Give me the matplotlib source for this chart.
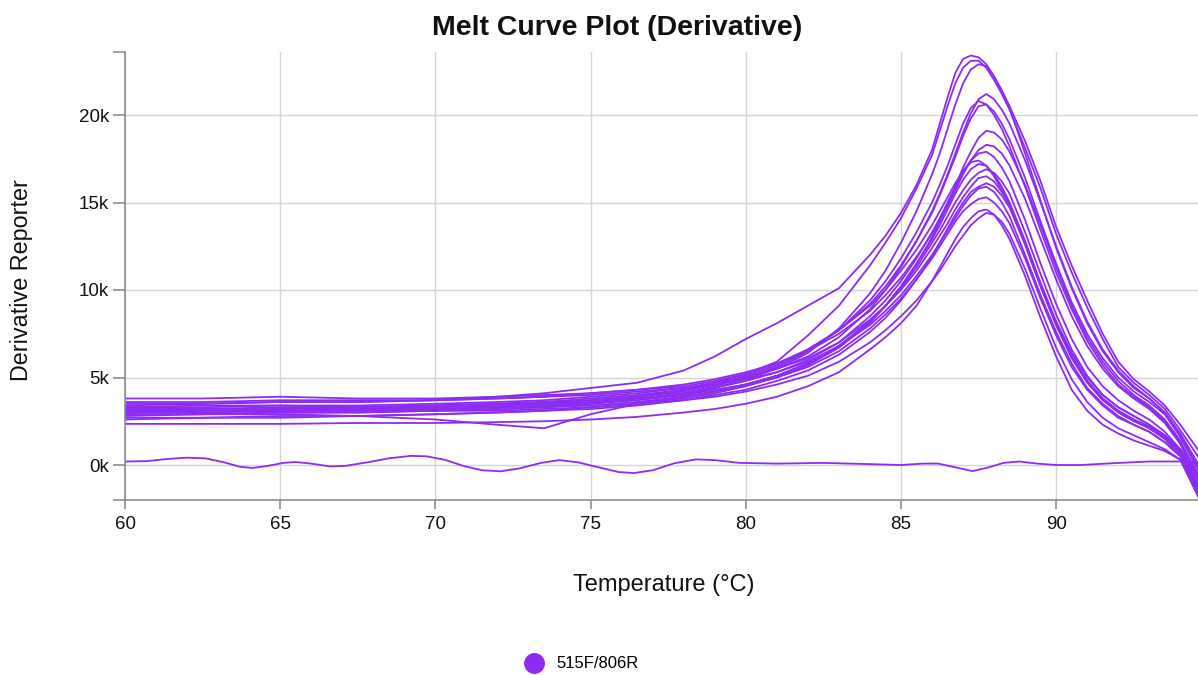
import matplotlib
matplotlib.use('Agg')
import matplotlib.pyplot as plt
from matplotlib.lines import Line2D
from matplotlib.ticker import FuncFormatter

PURPLE = '#8c2bf2'
GRID = '#d4d4d4'
AXIS = '#8e8e8e'

plt.rcParams['font.family'] = ['Liberation Sans', 'DejaVu Sans']

# temperature grid (°C) shared by the sample wells
temps = [60, 62.5, 65, 67.5, 70, 72, 73.5, 75, 76.5, 78, 79, 80, 81, 82, 83,
         84, 84.5, 85, 85.5, 86, 86.25, 86.5, 86.75, 87, 87.25, 87.5, 87.75,
         88, 88.25, 88.5, 89, 89.5, 90, 90.5, 91, 91.5, 92, 92.5, 93, 93.5, 94, 94.6]

# derivative reporter, in thousands
a1 = [3.4, 3.5, 3.6, 3.6, 3.7, 3.9, 4.1, 4.4, 4.7, 5.4, 6.2, 7.2, 8.1, 9.1, 10.1,
      12.0, 13.1, 14.4, 16.0, 18.0, 19.5, 21.0, 22.4, 23.2, 23.4, 23.3, 22.9,
      22.2, 21.4, 20.5, 18.5, 16.2, 13.6, 11.4, 9.4, 7.5, 5.9, 4.9, 4.2, 3.4, 2.3, 0.8]
a2 = [3.0, 3.1, 3.1, 3.2, 3.3, 3.4, 3.5, 3.7, 3.9, 4.3, 4.7, 5.2, 5.9, 7.4, 9.1,
      11.4, 12.7, 14.1, 15.8, 17.7, 19.1, 20.5, 21.8, 22.7, 23.1, 23.1, 22.7,
      22.0, 21.2, 20.3, 18.1, 15.8, 13.2, 11.0, 9.0, 7.2, 5.6, 4.7, 4.0, 3.2, 2.0, 0.4]
a3 = [3.1, 3.0, 3.1, 3.1, 3.2, 3.3, 3.4, 3.5, 3.7, 4.0, 4.4, 4.9, 5.5, 6.4, 7.8,
      9.8, 11.1, 12.7, 14.5, 16.6, 17.8, 19.2, 20.6, 21.8, 22.6, 22.9, 22.8,
      22.2, 21.4, 20.4, 17.8, 15.1, 12.4, 10.1, 8.1, 6.5, 5.3, 4.4, 3.8, 3.0, 1.8, 0.0]
a4 = [3.2, 3.2, 3.3, 3.3, 3.4, 3.5, 3.6, 3.8, 4.0, 4.3, 4.6, 5.0, 5.5, 6.2, 7.3,
      8.9, 10.0, 11.3, 12.8, 14.5, 15.5, 16.6, 17.8, 19.0, 20.1, 20.9, 21.2,
      20.9, 20.3, 19.5, 17.4, 15.0, 12.5, 10.2, 8.2, 6.6, 5.4, 4.5, 3.8, 3.0, 1.7, -0.2]
a5 = [2.9, 2.9, 3.0, 3.0, 3.1, 3.2, 3.3, 3.5, 3.8, 4.1, 4.5, 5.0, 5.6, 6.5, 7.7,
      9.4, 10.5, 11.8, 13.3, 15.0, 16.0, 17.1, 18.3, 19.5, 20.4, 20.8, 20.6,
      20.0, 19.2, 18.2, 15.9, 13.4, 11.0, 8.9, 7.1, 5.7, 4.6, 3.9, 3.3, 2.5, 1.3, -0.6]
a6 = [3.3, 3.3, 3.4, 3.3, 3.4, 3.5, 3.6, 3.7, 3.9, 4.2, 4.6, 5.1, 5.7, 6.6, 7.7,
      9.2, 10.2, 11.4, 12.8, 14.4, 15.4, 16.5, 17.6, 18.8, 19.8, 20.5, 20.6,
      20.2, 19.5, 18.6, 16.4, 13.9, 11.5, 9.3, 7.5, 6.1, 5.0, 4.2, 3.6, 2.9, 1.6, -0.4]
b1 = [2.6, 2.7, 2.7, 2.8, 2.9, 3.0, 3.1, 3.3, 3.5, 3.8, 4.1, 4.5, 5.0, 5.7, 6.7,
      8.1, 9.1, 10.2, 11.5, 13.0, 13.9, 14.9, 15.9, 17.0, 17.9, 18.7, 19.1,
      19.0, 18.6, 17.9, 16.0, 13.7, 11.3, 9.1, 7.3, 5.9, 4.8, 4.0, 3.4, 2.6, 1.4, -0.8]
b2 = [3.5, 3.5, 3.6, 3.6, 3.7, 3.8, 3.9, 4.1, 4.3, 4.6, 4.9, 5.3, 5.8, 6.5, 7.5,
      8.8, 9.7, 10.7, 11.9, 13.2, 14.0, 14.8, 15.7, 16.6, 17.4, 18.0, 18.3,
      18.2, 17.8, 17.1, 15.2, 12.9, 10.6, 8.5, 6.8, 5.5, 4.5, 3.8, 3.2, 2.4, 1.2, -1.0]
b3 = [3.1, 3.1, 3.2, 3.2, 3.2, 3.3, 3.4, 3.6, 3.8, 4.1, 4.4, 4.8, 5.3, 6.0, 7.0,
      8.5, 9.4, 10.5, 11.8, 13.3, 14.1, 15.0, 15.9, 16.8, 17.4, 17.8, 17.9,
      17.6, 17.0, 16.2, 14.0, 11.5, 9.2, 7.2, 5.6, 4.5, 3.7, 3.1, 2.6, 1.9, 0.9, -1.2]
b4 = [3.8, 3.8, 3.9, 3.8, 3.8, 3.9, 4.0, 4.1, 4.3, 4.5, 4.8, 5.2, 5.8, 6.6, 7.7,
      9.1, 10.0, 11.1, 12.3, 13.7, 14.5, 15.3, 16.1, 16.8, 17.3, 17.4, 17.1,
      16.5, 15.7, 14.8, 12.6, 10.2, 8.0, 6.2, 4.8, 3.8, 3.1, 2.6, 2.1, 1.5, 0.6, -1.5]
b5 = [2.8, 2.9, 2.9, 2.8, 2.6, 2.3, 2.1, 2.9, 3.5, 3.9, 4.2, 4.6, 5.1, 5.8, 6.8,
      8.2, 9.1, 10.2, 11.5, 12.9, 13.7, 14.6, 15.5, 16.3, 16.9, 17.2, 17.1,
      16.6, 15.9, 15.0, 12.8, 10.4, 8.2, 6.4, 5.0, 4.0, 3.3, 2.8, 2.3, 1.7, 0.8, -0.9]
b6 = [3.0, 3.0, 3.1, 3.1, 3.1, 3.2, 3.3, 3.4, 3.6, 3.9, 4.2, 4.6, 5.1, 5.8, 6.8,
      8.2, 9.1, 10.1, 11.3, 12.7, 13.4, 14.2, 15.0, 15.7, 16.3, 16.7, 16.9,
      16.7, 16.2, 15.5, 13.3, 10.9, 8.6, 6.6, 5.1, 4.0, 3.3, 2.8, 2.3, 1.7, 0.9, -0.6]
c1 = [3.3, 3.4, 3.4, 3.4, 3.5, 3.6, 3.7, 3.9, 4.1, 4.4, 4.7, 5.0, 5.5, 6.1, 7.0,
      8.3, 9.1, 10.0, 11.1, 12.4, 13.1, 13.8, 14.6, 15.3, 15.9, 16.4, 16.5,
      16.2, 15.6, 14.9, 12.7, 10.3, 8.1, 6.2, 4.8, 3.8, 3.1, 2.6, 2.2, 1.6, 0.7, -1.3]
c2 = [2.7, 2.7, 2.8, 2.8, 2.9, 3.0, 3.1, 3.2, 3.4, 3.7, 4.0, 4.3, 4.8, 5.4, 6.3,
      7.6, 8.4, 9.4, 10.6, 11.9, 12.7, 13.5, 14.3, 15.0, 15.6, 15.9, 16.1,
      15.9, 15.4, 14.7, 12.6, 10.2, 8.0, 6.1, 4.7, 3.7, 3.0, 2.5, 2.1, 1.5, 0.6, -1.4]
c3 = [3.6, 3.6, 3.7, 3.7, 3.7, 3.8, 3.9, 4.0, 4.2, 4.4, 4.6, 4.9, 5.3, 5.9, 6.8,
      8.0, 8.8, 9.7, 10.8, 12.0, 12.7, 13.4, 14.1, 14.8, 15.4, 15.8, 15.9,
      15.6, 15.0, 14.2, 12.0, 9.7, 7.6, 5.8, 4.4, 3.5, 2.8, 2.3, 1.9, 1.3, 0.5, -1.6]
c4 = [2.35, 2.35, 2.35, 2.4, 2.4, 2.45, 2.5, 2.6, 2.75, 3.0, 3.2, 3.5, 3.9, 4.5, 5.3,
      6.6, 7.3, 8.1, 9.1, 10.5, 11.3, 12.1, 12.9, 13.6, 14.1, 14.5, 14.6,
      14.3, 13.7, 12.9, 10.8, 8.4, 6.2, 4.3, 3.1, 2.3, 1.8, 1.4, 1.1, 0.8, 0.3, -1.9]
c5 = [2.9, 2.9, 3.0, 3.0, 3.1, 3.1, 3.2, 3.3, 3.5, 3.7, 3.9, 4.2, 4.6, 5.1, 5.9,
      7.0, 7.7, 8.5, 9.4, 10.5, 11.1, 11.8, 12.5, 13.1, 13.7, 14.1, 14.4,
      14.3, 13.9, 13.2, 11.2, 8.9, 6.7, 4.9, 3.6, 2.7, 2.1, 1.7, 1.3, 0.9, 0.3, -1.7]
c6 = [3.2, 3.2, 3.2, 3.3, 3.3, 3.4, 3.5, 3.6, 3.8, 4.0, 4.3, 4.6, 5.0, 5.6, 6.5,
      7.8, 8.6, 9.5, 10.6, 11.8, 12.5, 13.2, 13.9, 14.5, 14.9, 15.2, 15.3,
      15.0, 14.5, 13.8, 11.8, 9.5, 7.4, 5.6, 4.3, 3.4, 2.7, 2.3, 1.9, 1.3, 0.5, -1.5]

wells = [a1, a2, a3, a4, a5, a6, b1, b2, b3, b4, b5, b6, c1, c2, c3, c4, c5, c6]

# no-template control, on its own temperature steps
ntc_temps = [60, 60.7, 61.4, 62.0, 62.6, 63.2, 63.7, 64.1, 64.6, 65.1, 65.5, 66.0,
             66.6, 67.1, 67.8, 68.5, 69.2, 69.7, 70.3, 70.9, 71.5, 72.1, 72.7,
             73.4, 74.0, 74.6, 75.3, 75.9, 76.4, 77.0, 77.7, 78.4, 79.0, 79.8,
             81, 82.5, 84, 85, 85.7, 86.2, 86.8, 87.3, 87.8, 88.3, 88.8, 89.4,
             90, 90.8, 91.8, 93.0, 94.0, 94.6]
ntc = [0.20, 0.22, 0.35, 0.42, 0.38, 0.15, -0.10, -0.17, -0.05, 0.12, 0.17, 0.08,
       -0.08, -0.05, 0.15, 0.38, 0.52, 0.50, 0.30, -0.05, -0.30, -0.36, -0.20,
       0.12, 0.28, 0.15, -0.15, -0.40, -0.46, -0.30, 0.10, 0.32, 0.28, 0.12,
       0.08, 0.12, 0.05, 0.0, 0.08, 0.08, -0.15, -0.35, -0.15, 0.12, 0.20, 0.08,
       0.0, 0.0, 0.10, 0.20, 0.20, 0.12]

y_ticks = [0, 5, 10, 15, 20]
x_ticks = [60, 65, 70, 75, 80, 85, 90]

fig = plt.figure(figsize=(11.98, 6.75), dpi=100)
ax = fig.add_axes([125 / 1198, 1 - 500 / 675, 1 - 125 / 1198, 448 / 675])

for w in wells:
    ax.plot(temps, w, color=PURPLE, lw=1.3, solid_joinstyle='round')
ax.plot(ntc_temps, ntc, color=PURPLE, lw=1.3, solid_joinstyle='round')

ax.set_xlim(60, 94.57)
ax.set_ylim(-2.0, 23.6)
ax.set_xticks(x_ticks)
ax.set_yticks(y_ticks)
ax.set_yticks([-2.0, 23.6], minor=True)
ax.yaxis.set_major_formatter(FuncFormatter(lambda v, p: f'{v:g}k'))
ax.grid(True, which='major', color=GRID, lw=1)
ax.set_axisbelow(True)

for s in ['top', 'right']:
    ax.spines[s].set_visible(False)
for s in ['left', 'bottom']:
    ax.spines[s].set_color(AXIS)
    ax.spines[s].set_linewidth(1.2)

ax.tick_params(axis='y', which='both', length=8.5, width=1.2, color=AXIS, pad=3,
               labelsize=13.5, labelcolor='#111111')
ax.tick_params(axis='x', length=6.5, width=1.2, color=AXIS, pad=5,
               labelsize=13.5, labelcolor='#111111')

fig.text(617 / 1198, 1 - 28 / 675, 'Melt Curve Plot (Derivative)', ha='center', va='center',
         fontsize=20.5, fontweight='bold', color='#111111')
fig.text(22 / 1198, 1 - 280 / 675, 'Derivative Reporter', ha='center', va='center',
         rotation=90, fontsize=16.8, color='#111111')
fig.text(664 / 1198, 1 - 585 / 675, 'Temperature (°C)', ha='center', va='center',
         fontsize=17, color='#111111')

dot = Line2D([], [], marker='o', ls='', color=PURPLE, markersize=14)
fig.legend(handles=[dot], labels=['515F/806R'], loc='center', frameon=False,
           bbox_to_anchor=(578 / 1198, 1 - 664 / 675), fontsize=12,
           handletextpad=0.35, borderpad=0)

fig.savefig('out.png', dpi=100)
